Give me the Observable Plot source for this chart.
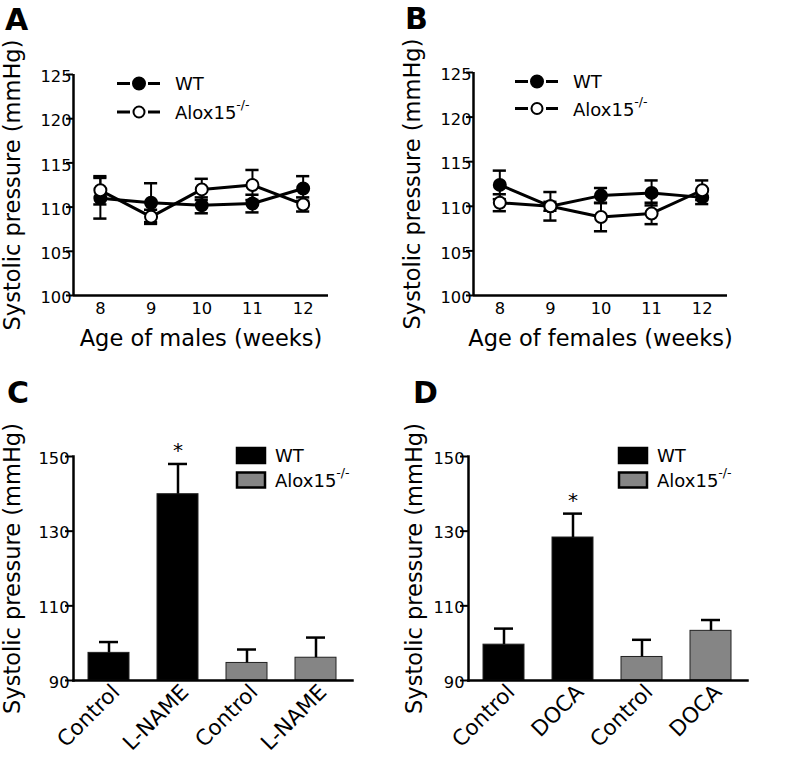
<!DOCTYPE html>
<html>
<head>
<meta charset="utf-8">
<script src="https://cdn.jsdelivr.net/npm/d3@7"></script>
<script src="https://cdn.jsdelivr.net/npm/@observablehq/plot@0.6"></script>
<style>
  html, body { margin: 0; padding: 0; background: #fff; }
  #fig { position: relative; width: 799px; height: 763px; background: #fff; font-family: "DejaVu Sans", "Liberation Sans", Arial, sans-serif; overflow: hidden; }
  .panel { position: absolute; }
  #overlay { position: absolute; left: 0; top: 0; pointer-events: none; }
</style>
</head>
<body>
<div id="fig">
  <div class="panel" id="pA" style="left:0;top:0"></div>
  <div class="panel" id="pB" style="left:400px;top:0"></div>
  <div class="panel" id="pC" style="left:0;top:380px"></div>
  <div class="panel" id="pD" style="left:400px;top:380px"></div>
  <svg id="overlay" width="799" height="763"></svg>
</div>
<script>
// ---------------- data ----------------
const weeks = [8, 9, 10, 11, 12];
const groups = ["WT", "Alox15-/-"];

// Panel A – males
const maleWTMean   = [111.0, 110.5, 110.2, 110.4, 112.1];
const maleWTSem    = [2.3, 2.2, 0.9, 1.0, 1.4];
const maleKOMean   = [111.9, 108.9, 112.0, 112.5, 110.3];
const maleKOSem    = [1.6, 0.8, 1.2, 1.7, 0.8];

// Panel B – females
const femWTMean    = [112.4, 110.0, 111.2, 111.5, 111.0];
const femWTSem     = [1.6, 1.6, 0.85, 1.4, 0.75];
const femKOMean    = [110.4, 110.0, 108.8, 109.2, 111.8];
const femKOSem     = [0.95, 0.5, 1.6, 1.2, 1.1];

const lineYTicks = [100, 105, 110, 115, 120, 125];

// Panel C – L-NAME
const cLabels = ["Control", "L-NAME", "Control", "L-NAME"];
const cGroups = ["WT", "WT", "Alox15-/-", "Alox15-/-"];
const cMean   = [97.4, 139.9, 94.7, 96.1];
const cSem    = [2.9, 8.1, 3.6, 5.4];
const cSig    = [false, true, false, false];

// Panel D – DOCA
const dLabels = ["Control", "DOCA", "Control", "DOCA"];
const dGroups = ["WT", "WT", "Alox15-/-", "Alox15-/-"];
const dMean   = [99.6, 128.3, 96.3, 103.3];
const dSem    = [4.3, 6.4, 4.6, 2.9];
const dSig    = [false, true, false, false];

const barYTicks = [90, 110, 130, 150];

const yTitle = "Systolic pressure (mmHg)";
const FONT = '"DejaVu Sans", "Liberation Sans", Arial, sans-serif';
const TICK_PX = 16.3, XROT_PX = 21.5, TITLE_PX = 22.5, LEG_PX = 18;

// ---------------- helpers ----------------
function lineRows(wtM, wtS, koM, koS) {
  const rows = [];
  weeks.forEach((w, i) => rows.push({week: w, group: groups[0], mean: wtM[i], sem: wtS[i]}));
  weeks.forEach((w, i) => rows.push({week: w, group: groups[1], mean: koM[i], sem: koS[i]}));
  return rows;
}

function linePanel(rows, opts) {
  const cap = 0.13;
  const xDom = opts.xDomain, yDom = [100, 125];
  return Plot.plot({
    width: opts.width, height: opts.height,
    marginLeft: opts.ml, marginRight: opts.mr, marginTop: opts.mt, marginBottom: opts.mb,
    style: {fontFamily: FONT, fontSize: TICK_PX + "px", background: "transparent", color: "#000"},
    x: {domain: xDom, axis: null},
    y: {domain: yDom},
    marks: [
      Plot.ruleX([xDom[0]], {stroke: "#000", strokeWidth: 2.5}),
      Plot.ruleY([yDom[0]], {stroke: "#000", strokeWidth: 2.5}),
      Plot.axisY({ticks: lineYTicks, tickSize: 7, tickFormat: () => "", strokeWidth: 2, label: null}),
      Plot.text(lineYTicks, {y: d => d, text: d => String(d), frameAnchor: "left", textAnchor: "end", lineAnchor: "middle", dx: -2, dy: 2.5, fontSize: TICK_PX, fill: "#000"}),
      Plot.text(weeks, {x: d => d, text: d => String(d), frameAnchor: "bottom", lineAnchor: "top", dy: 7, fontSize: TICK_PX, fill: "#000"}),
      Plot.line(rows, {x: "week", y: "mean", z: "group", stroke: "#000", strokeWidth: 3}),
      Plot.ruleX(rows, {x: "week", y1: d => d.mean - d.sem, y2: d => d.mean + d.sem, stroke: "#000", strokeWidth: 2}),
      Plot.ruleY(rows, {y: d => d.mean + d.sem, x1: d => d.week - cap, x2: d => d.week + cap, stroke: "#000", strokeWidth: 2.5}),
      Plot.ruleY(rows, {y: d => d.mean - d.sem, x1: d => d.week - cap, x2: d => d.week + cap, stroke: "#000", strokeWidth: 2.5}),
      Plot.dot(rows, {x: "week", y: "mean", r: 6, fill: d => d.group === "WT" ? "#000" : "#fff", stroke: "#000", strokeWidth: 2}),
      Plot.text([yTitle], {frameAnchor: "left", rotate: -90, dx: opts.ytDx, fontSize: TITLE_PX, textAnchor: "middle", fill: "#000"}),
      Plot.text([opts.xTitle], {frameAnchor: "bottom", dy: 43, fontSize: TITLE_PX, textAnchor: "middle", lineAnchor: "middle", fill: "#000"})
    ]
  });
}

function barRows(labels, grp, mean, sem, sig) {
  return labels.map((l, i) => ({i, label: l, group: grp[i], mean: mean[i], sem: sem[i], sig: sig[i]}));
}

function barPanel(rows, opts) {
  const yDom = [90, 150];
  const idx = rows.map(d => d.i);
  return Plot.plot({
    width: opts.width, height: opts.height,
    marginLeft: opts.ml, marginRight: opts.mr, marginTop: opts.mt, marginBottom: opts.mb,
    style: {fontFamily: FONT, fontSize: TICK_PX + "px", background: "transparent", color: "#000"},
    x: {type: "band", domain: idx, paddingInner: 0.4, paddingOuter: 0.2, axis: null},
    y: {domain: yDom},
    marks: [
      Plot.barY(rows, {x: "i", y1: yDom[0], y2: "mean", fill: d => d.group === "WT" ? "#000" : "#858585", stroke: "#222", strokeWidth: 1}),
      Plot.ruleX(rows, {x: "i", y1: "mean", y2: d => d.mean + d.sem, stroke: "#000", strokeWidth: 2.5}),
      Plot.tickY(rows, {x: "i", y: d => d.mean + d.sem, stroke: "#000", strokeWidth: 2.5, insetLeft: 11, insetRight: 11}),
      Plot.text(rows.filter(d => d.sig), {x: "i", y: d => d.mean + d.sem, text: () => "*", dy: -13, fontSize: 20, fill: "#000"}),
      Plot.axisY({ticks: barYTicks, tickSize: 8, tickFormat: () => "", strokeWidth: 2, label: null}),
      Plot.text(barYTicks, {y: d => d, text: d => String(d), frameAnchor: "left", textAnchor: "end", lineAnchor: "middle", dx: -4, dy: 2, fontSize: TICK_PX, fill: "#000"}),
      Plot.text(rows, {x: "i", text: "label", frameAnchor: "bottom", rotate: -45, textAnchor: "end", lineAnchor: "middle", dx: 7, dy: 8, fontSize: XROT_PX, fill: "#000"}),
      Plot.frame({anchor: "left", stroke: "#000", strokeWidth: 2.5}),
      Plot.frame({anchor: "bottom", stroke: "#000", strokeWidth: 2.5}),
      Plot.text([yTitle], {frameAnchor: "left", rotate: -90, dx: opts.ytDx, fontSize: TITLE_PX, textAnchor: "middle", fill: "#000"})
    ]
  });
}

// ---------------- panels ----------------
document.getElementById("pA").appendChild(linePanel(lineRows(maleWTMean, maleWTSem, maleKOMean, maleKOSem), {
  width: 400, height: 380, ml: 73, mr: 72, mt: 74, mb: 85, xDomain: [7.47, 12.5], ytDx: -61, xTitle: "Age of males (weeks)"
}));
document.getElementById("pB").appendChild(linePanel(lineRows(femWTMean, femWTSem, femKOMean, femKOSem), {
  width: 399, height: 380, ml: 73, mr: 72, mt: 72, mb: 85, xDomain: [7.48, 12.5], ytDx: -61, xTitle: "Age of females (weeks)"
}));
document.getElementById("pC").appendChild(barPanel(barRows(cLabels, cGroups, cMean, cSem, cSig), {
  width: 400, height: 383, ml: 73, mr: 48, mt: 76, mb: 83, ytDx: -61
}));
document.getElementById("pD").appendChild(barPanel(barRows(dLabels, dGroups, dMean, dSem, dSig), {
  width: 399, height: 383, ml: 68, mr: 52, mt: 76, mb: 83, ytDx: -54
}));

// ---------------- panel letters & legends (overlay) ----------------
const ov = d3.select("#overlay").attr("font-family", FONT);
[["A", 5, 30], ["B", 405, 29], ["C", 7, 403], ["D", 413, 403]].forEach(([t, x, y]) =>
  ov.append("text").attr("x", x).attr("y", y).attr("font-size", 30).attr("font-weight", "bold").text(t));

function labelText(g, x, y, name) {
  const t = g.append("text").attr("x", x).attr("y", y).attr("font-size", LEG_PX).attr("dominant-baseline", "central");
  if (name.endsWith("-/-")) {
    t.append("tspan").text(name.slice(0, -3));
    t.append("tspan").attr("font-size", 12.5).attr("dy", -8).text("-/-");
  } else t.text(name);
}

function lineLegend(x0, ys) {
  groups.forEach((gname, k) => {
    const y = ys[k];
    ov.append("line").attr("x1", x0).attr("x2", x0 + 13).attr("y1", y).attr("y2", y).attr("stroke", "#000").attr("stroke-width", 3);
    ov.append("line").attr("x1", x0 + 31).attr("x2", x0 + 43).attr("y1", y).attr("y2", y).attr("stroke", "#000").attr("stroke-width", 3);
    ov.append("circle").attr("cx", x0 + 22).attr("cy", y).attr("r", k === 0 ? 6 : 5.5)
      .attr("fill", k === 0 ? "#000" : "#fff").attr("stroke", "#000").attr("stroke-width", 2);
    labelText(ov, x0 + 58, y, gname);
  });
}
lineLegend(117, [83.5, 112]);
lineLegend(515, [81.5, 108.5]);

function barLegend(x0, ys) {
  groups.forEach((gname, k) => {
    const y = ys[k];
    ov.append("rect").attr("x", x0).attr("y", y - 7.5).attr("width", 28).attr("height", 15)
      .attr("fill", k === 0 ? "#000" : "#858585").attr("stroke", "#000").attr("stroke-width", 2.5);
    labelText(ov, x0 + 38, y, gname);
  });
}
barLegend(237, [455.5, 480]);
barLegend(619, [455.5, 480]);
</script>
</body>
</html>
